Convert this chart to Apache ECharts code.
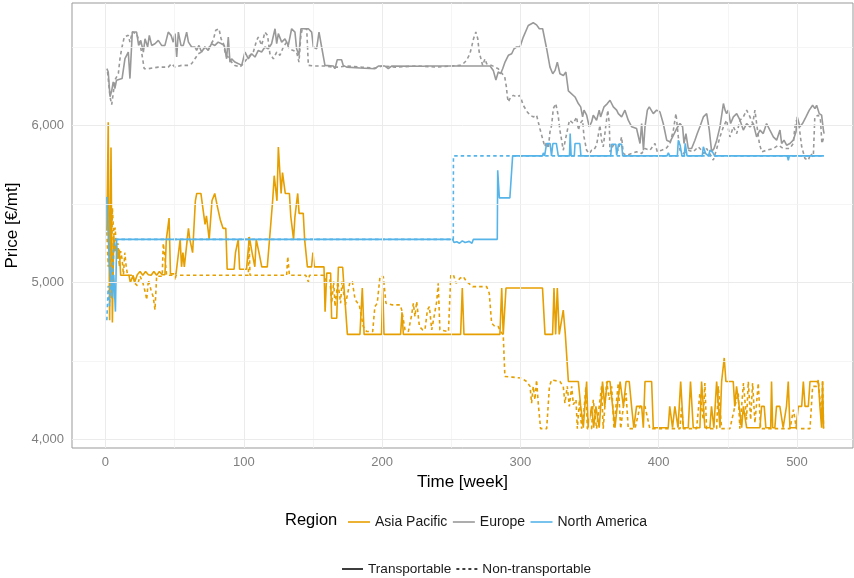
<!DOCTYPE html>
<html><head><meta charset="utf-8">
<script src="https://cdn.jsdelivr.net/npm/echarts@6/dist/echarts.min.js"></script>
<style>html,body{margin:0;padding:0;background:#fff}#c{width:854px;height:578px}</style>
</head><body><div id="c"></div>
<script>
const regions = ['Asia Pacific', 'Europe', 'North America'];
const regionColors = ['#E69F00', '#999999', '#56B4E9'];
const types = ['Transportable', 'Non-transportable'];
const xTicks = [0, 100, 200, 300, 400, 500];
const xGrid = [0, 50, 100, 150, 200, 250, 300, 350, 400, 450, 500];
const yTicks = [4000, 5000, 6000];
const yGrid = [4000, 4500, 5000, 5500, 6000, 6500];

// Asia Pacific, transportable [week, price]
const apT = [[1,5330],[2,6020],[3,4760],[4,5860],[5,4745],[6,5300],[7,5200],[8,5240],[9,5150],[10,5210],[11,5046],[17,5046],[18,5000],[20,5046],[21,5000],[23,5050],[25,5070],[27,5046],[29,5070],[31,5050],[33,5046],[35,5070],[37,5046],[39,5070],[41,5050],[43,5050],[44,5275],[46,5410],[47,5055],[51,5055],[54,5275],[55,5100],[56,5190],[57,5100],[60,5345],[61,5275],[63,5190],[65,5520],[66,5567],[69,5567],[72,5370],[73,5425],[75,5275],[77,5520],[79,5567],[81,5480],[83,5400],[85,5345],[87,5345],[88,5085],[91,5085],[93,5085],[94,5190],[96,5275],[97,5085],[102,5085],[104,5290],[106,5190],[108,5100],[109,5275],[111,5190],[113,5100],[117,5100],[119,5315],[121,5535],[122,5680],[124,5520],[125,5863],[127,5567],[128,5700],[130,5567],[133,5567],[134,5420],[136,5275],[137,5420],[139,5567],[140,5440],[143,5440],[144,5275],[146,5100],[149,5100],[150,5190],[151,5100],[158,5100],[158.8,4815],[160,5060],[162.8,5060],[163.5,4773],[167.2,4773],[168.4,5097],[171.5,5097],[172.5,4964],[173.5,4847],[174.9,4670],[184,4670],[185.7,4965],[187,4670],[199.6,4670],[200.5,4965],[201.4,4670],[213.4,4670],[214.4,4810],[215.4,4670],[256.8,4670],[258,4965],[259.2,4670],[285.2,4670],[286.5,4965],[287.6,4670],[289.6,4965],[316,4965],[317.8,4670],[323.3,4670],[324.3,4965],[325.5,4670],[326.7,4965],[328.1,4670],[331,4825],[332.5,4670],[333.4,4670],[334.7,4370],[341.9,4370],[343.6,4215],[345.5,4076],[347.9,4370],[349,4076],[351.5,4212],[353,4076],[354.6,4212],[357,4076],[359.4,4370],[361,4212],[362.8,4370],[364.8,4370],[366.7,4212],[368.4,4076],[370,4212],[372.1,4370],[374.5,4212],[376.4,4370],[378.7,4370],[380.4,4212],[382,4076],[384,4212],[387.7,4212],[388.9,4076],[390.1,4370],[394.9,4370],[396.1,4076],[406.9,4076],[408,4212],[410,4076],[411.7,4212],[414,4076],[415.9,4370],[417.8,4076],[421.4,4076],[423,4370],[425,4076],[429.8,4076],[431,4370],[433.4,4076],[437,4076],[438.2,4212],[439.9,4076],[441.9,4370],[444.3,4076],[445.5,4370],[447.4,4520],[448.6,4370],[453.9,4370],[455,4212],[456.3,4340],[458.2,4212],[460,4076],[461.2,4212],[463.6,4076],[473.2,4076],[474.4,4212],[476.3,4212],[477.5,4076],[481,4076],[481.6,4370],[482.4,4076],[484,4076],[485.2,4212],[487.6,4212],[490,4076],[492.4,4212],[493.7,4370],[494.9,4076],[499.3,4076],[501,4212],[503.4,4212],[504.6,4370],[505.8,4212],[508.2,4212],[509.4,4370],[515.4,4370],[516.6,4212],[517.8,4076],[518.5,4370],[519.2,4076]];

// Asia Pacific, non-transportable
const apN = [[1,5320],[2,5100],[3,5450],[4,4900],[5,5474],[6,5300],[7,5350],[8,5200],[9,5250],[10,5100],[11,5200],[12,5150],[13,5050],[14,5190],[15,5100],[16,5046],[20,5046],[21.3,4995],[23,4980],[25,5040],[27,5000],[29,4930],[29.8,4890],[31,5016],[33,4950],[34.5,4910],[35.8,4826],[37,5040],[41,5040],[41.8,5250],[43,5160],[44.2,5046],[50,5046],[50.3,5015],[51,5046],[103.3,5046],[103.8,5290],[104.5,5046],[131,5046],[131.8,5165],[133,5046],[144.8,5046],[146.7,5005],[147.5,5046],[157.5,5046],[160,5006],[162.3,5016],[163.6,4868],[165,5006],[166,4847],[168,5006],[169,5006],[170,4868],[171,5006],[173.5,4858],[174.4,4868],[176.8,5005],[178.5,5005],[180.5,4890],[183.5,4858],[186.4,4720],[188.8,4688],[193.2,4688],[194.8,4847],[196.5,4868],[198.5,5038],[200.9,5038],[202.8,4868],[207,4858],[213,4858],[214.2,4826],[216.6,4699],[219,4688],[221.4,4794],[222.6,4868],[223.8,4783],[225,4879],[227,4720],[229.4,4699],[231,4699],[232.8,4826],[234.2,4847],[235.9,4699],[239.5,4879],[240.6,4995],[241.8,4699],[248,4688],[249.7,5048],[251.6,5048],[253.5,4995],[256.3,5027],[258.7,5038],[261.1,5006],[265.5,4974],[275.6,4974],[277.5,4932],[279.2,4741],[281.6,4720],[284,4720],[285.7,4688],[287.6,4667],[288.8,4402],[294,4398],[300.9,4392],[304.5,4370],[307,4339],[308.1,4233],[309.3,4339],[310.5,4254],[311.7,4380],[312.9,4233],[314.6,4070],[319,4070],[321,4339],[322.6,4380],[328.6,4370],[331,4339],[332.2,4233],[333.9,4339],[335.4,4212],[337.1,4339],[338.3,4223],[340.2,4254],[341.2,4070],[342.7,4254],[344.3,4070],[346,4191],[347.4,4339],[348.4,4070],[351.5,4070],[352.7,4254],[355.1,4070],[358.7,4339],[359.9,4070],[362.4,4370],[364.3,4254],[366,4339],[367.7,4070],[369.1,4212],[370.8,4360],[372.5,4070],[374.5,4212],[376.4,4296],[378,4070],[382.9,4070],[386.5,4212],[390.1,4212],[393.6,4070],[415.4,4070],[416.6,4212],[417.8,4070],[427.4,4070],[429.8,4296],[432.2,4127],[433.4,4360],[434.6,4070],[441.9,4070],[443.1,4339],[445.5,4070],[451.5,4070],[455.1,4212],[457.5,4296],[458.7,4070],[461.3,4360],[463.5,4127],[464.8,4370],[466.5,4127],[467.9,4360],[469.6,4106],[472,4360],[473.7,4070],[495,4070],[497.4,4191],[499.6,4070],[509.4,4070],[511.3,4339],[514.2,4339],[515.4,4380],[516.6,4392],[517.8,4127],[518.5,4380],[519.2,4070]];

// Europe, transportable
const euT = [[1,6361],[2,6340],[3.3,6182],[4.5,6220],[5.6,6277],[6.8,6235],[8,6288],[9.3,6298],[12,6298],[14.1,6425],[16.5,6467],[17.7,6298],[19.4,6594],[22.5,6594],[24,6509],[25.5,6541],[27.4,6467],[28.6,6551],[30.5,6499],[31.7,6573],[33.4,6509],[35.8,6520],[38.2,6541],[40.6,6509],[43,6509],[45.4,6594],[47.4,6573],[49,6530],[50.3,6584],[51.5,6435],[52.7,6594],[54.6,6509],[56.3,6509],[58.7,6594],[60,6530],[62.3,6499],[64.7,6499],[65.9,6477],[67.6,6509],[69.5,6467],[71.9,6499],[74.3,6477],[76.7,6520],[79.1,6509],[81.5,6530],[83.9,6520],[85.9,6509],[87.6,6424],[88.8,6562],[90,6403],[91.2,6424],[93.6,6403],[96.1,6393],[98.5,6382],[100.9,6467],[103.3,6424],[105.7,6456],[108.1,6435],[110.5,6477],[112.9,6467],[115.3,6499],[117.7,6488],[120.1,6520],[122.6,6615],[123.8,6520],[125,6584],[127.4,6530],[129.8,6551],[132.2,6509],[134.6,6615],[137,6594],[138.2,6488],[139.9,6446],[141.3,6615],[146.7,6615],[149.1,6594],[150.3,6499],[152.7,6488],[154.4,6594],[156.3,6499],[158.7,6382],[164.7,6378],[165.9,6361],[167.6,6418],[170.7,6418],[171.9,6382],[174.4,6371],[184,6365],[194.9,6361],[197.3,6378],[202.1,6378],[204.5,6361],[206.9,6378],[230,6376],[231,6368],[232,6378],[278.1,6378],[280.4,6350],[282.3,6289],[284,6340],[285.7,6329],[287.2,6361],[288.9,6403],[291.3,6446],[293.7,6456],[295.4,6488],[297.3,6499],[299.7,6499],[300.9,6488],[302.1,6562],[303.3,6573],[305.7,6636],[309.3,6653],[311.7,6640],[313.7,6615],[316.1,6615],[317.1,6626],[319,6488],[321.4,6371],[323.4,6329],[325.1,6350],[326.7,6403],[328.6,6329],[331.1,6318],[332.9,6340],[334.7,6220],[339.5,6181],[341.9,6139],[343.6,6118],[345,6054],[346,6097],[347.9,6065],[349.8,5991],[351.5,6022],[352.7,6065],[355.1,6033],[357,6097],[358,6054],[360.5,6118],[362.9,6139],[364.8,6160],[367.2,6118],[369.6,6097],[370.8,6075],[373.2,6054],[375.6,6097],[378,6033],[380.5,5991],[384,5980],[386.5,5885],[387.7,6012],[389,5842],[390.1,5991],[391.8,6097],[393.2,6118],[396.1,6075],[398.5,6097],[400.9,6086],[403.3,6012],[405.8,5906],[408.2,5895],[410.6,5937],[413,5980],[415.4,6012],[417.3,5991],[418.3,5885],[419.7,5948],[421.4,5853],[423.8,5853],[426.2,5906],[427.9,5948],[429.8,5991],[432.3,6054],[434.7,6075],[436.6,5970],[438.3,5832],[440,5853],[442,5906],[444.3,5991],[446.8,6139],[448,6097],[449.1,6075],[450.3,6097],[452,6012],[454,6054],[456.4,6075],[458.8,6033],[461.2,5970],[463.6,6012],[466,5991],[468.4,6012],[470.8,5927],[473.2,5970],[475.6,5948],[478,6012],[480.4,5970],[482.9,5927],[485.3,5906],[487.7,5970],[488.9,5885],[490.6,5906],[492.5,5874],[494.9,5885],[497.3,5906],[499.3,5959],[500.2,6054],[502.1,5991],[504,6012],[506.5,6054],[508.9,6097],[511.3,6128],[513,6107],[514.2,6128],[516.1,6075],[517.8,6065],[519.1,5970],[519.6,5948]];

// Europe, non-transportable
const euN = [[1.5,6340],[3.3,6182],[4.5,6132],[5.6,6203],[6.8,6288],[9.3,6330],[10.5,6425],[11.7,6488],[13.6,6563],[16.5,6573],[17.7,6530],[19.4,6594],[22.5,6584],[24.9,6520],[26.1,6467],[28,6361],[30.9,6361],[38.2,6371],[45.4,6371],[47.8,6393],[50.3,6371],[55,6382],[60,6382],[62.3,6393],[64.7,6424],[67.1,6456],[69.5,6467],[71.9,6499],[74.3,6488],[77.9,6541],[79.7,6605],[82.1,6615],[83.6,6551],[85.3,6520],[86.9,6446],[88.8,6435],[91.2,6403],[93.6,6382],[97.2,6371],[99.6,6393],[103.3,6435],[106.9,6467],[109.3,6541],[110.5,6562],[112.9,6509],[115.3,6594],[117.2,6573],[118.9,6456],[121.4,6424],[123.8,6467],[126.2,6446],[128.6,6499],[131,6530],[132.7,6488],[135.8,6477],[138.2,6467],[139.9,6403],[141.3,6573],[142.3,6615],[145.5,6615],[146.7,6382],[151.5,6378],[158.7,6378],[164.7,6371],[165.9,6361],[169,6371],[174,6378],[185,6371],[195,6365],[200,6378],[210,6371],[225,6378],[240,6371],[250,6378],[256.3,6382],[258.7,6393],[261.1,6414],[263.5,6456],[265,6509],[266.1,6551],[267.8,6594],[269.2,6551],[270.2,6467],[272.7,6382],[274.4,6424],[275.6,6393],[276.8,6382],[279.2,6382],[284,6361],[288.7,6308],[289.9,6244],[290.6,6181],[291.3,6149],[293,6181],[295,6191],[297.3,6181],[299.7,6191],[302.1,6128],[305,6086],[307,6065],[309.3,6054],[311.7,6065],[314.1,5980],[316,5917],[317.7,5864],[319,5895],[320.2,5853],[321.4,5959],[322.6,6001],[323.8,6107],[325.6,6139],[327.3,6065],[328.6,5969],[329.8,5906],[331,5842],[332.5,5906],[334,5970],[335.5,6033],[338.3,6012],[340.7,6054],[342,5969],[343.1,6012],[345,6033],[346,5927],[347.9,5842],[349.8,5821],[351.5,5842],[353,5842],[355.1,5874],[357.5,6001],[358.7,5906],[359.9,5864],[363.2,6097],[364.3,6012],[364.8,5832],[367.2,5874],[370.8,5842],[373.2,5927],[374.4,5821],[376.8,5810],[380.5,5821],[384,5832],[387.7,5821],[390.1,5853],[393.7,5842],[397.3,5885],[399,5832],[402.1,5842],[405.3,5853],[408.2,5885],[410.6,5970],[412.5,6076],[414.2,5927],[415.4,5842],[417.8,5821],[421.4,5842],[425,5832],[428.6,5864],[431,5842],[432.7,5821],[434.6,5853],[438.3,5800],[439.5,5779],[442,5853],[444.3,5927],[446.8,5991],[449.1,6033],[451.5,5927],[454,5991],[456.4,5948],[458.8,6033],[461.2,6054],[463.6,6097],[466,6054],[468,6012],[469.6,6097],[470.8,6012],[472.8,5885],[474.5,5832],[478,5842],[482.9,5853],[486.5,5874],[490.1,5853],[494.9,5853],[497.3,5885],[498.5,5991],[499.7,6033],[501.6,5991],[503.4,5864],[505.8,5789],[508.2,5779],[509.9,5821],[511.8,5800],[512.9,6054],[515.4,6065],[517,6033],[518,5885],[519.5,5927]];

// North America, transportable
const naT = [[1,5545],[2,5300],[3,5100],[4,5000],[5,4900],[6,5050],[7.2,4815],[8.1,5275],[251,5275],[252,5255],[254,5260],[256,5250],[258,5265],[260,5255],[263,5262],[265,5250],[266,5275],[283.3,5275],[283.6,5715],[284.8,5539],[292.4,5539],[294.4,5806],[316,5806],[316.6,5825],[317.5,5806],[319,5885],[321.5,5885],[322.5,5806],[323.5,5885],[326,5885],[327.4,5806],[335.5,5806],[336,5949],[336.7,5806],[339,5806],[339.5,5885],[343,5885],[343.8,5806],[357,5806],[357.4,5816],[358,5806],[365.3,5806],[366,5880],[369,5880],[369.6,5810],[371,5880],[373.2,5880],[374,5806],[377,5806],[378,5795],[380,5806],[406,5806],[407,5825],[408,5806],[413.5,5806],[414.2,5906],[415.5,5874],[416.8,5806],[418.5,5806],[419.2,5885],[420.5,5806],[431.5,5806],[432.3,5864],[434,5820],[436,5806],[437.1,5842],[439,5830],[440.5,5806],[493,5806],[493.7,5778],[494.5,5806],[519.5,5806]];

// North America, non-transportable
const naN = [[1,4760],[2,4980],[3,4850],[4,5100],[5,4950],[6,5200],[7,5275],[251.5,5275],[251.6,5806],[519.5,5806]];

const seriesData = [
  {region: 0, type: 0, data: apT},
  {region: 0, type: 1, data: apN},
  {region: 1, type: 0, data: euT},
  {region: 1, type: 1, data: euN},
  {region: 2, type: 0, data: naT},
  {region: 2, type: 1, data: naN}
];

const FONT = 'Liberation Sans, Arial, sans-serif';
const DASH = [3.5, 3];
const LW = 1.6;
const SOLID_ICON = 'path://M0,0h22v1.6h-22z';
const DASH_ICON = 'path://M0,0h3v1.6h-3zM6,0h3v1.6h-3zM12,0h3v1.6h-3zM18,0h3v1.6h-3z';

const series = [];
// grid lines
series.push({
  type: 'line', data: [], z: 1, silent: true,
  markLine: {
    silent: true, symbol: ['none', 'none'], label: {show: false}, animation: false,
    data: xGrid.map(v => ({xAxis: v, lineStyle: {color: v % 100 === 0 ? '#EBEBEB' : '#F3F3F3', width: v % 100 === 0 ? 1 : 0.8, type: 'solid'}}))
      .concat(yGrid.map(v => ({yAxis: v, lineStyle: {color: v % 1000 === 0 ? '#EBEBEB' : '#F3F3F3', width: v % 1000 === 0 ? 1 : 0.8, type: 'solid'}})))
  }
});
seriesData.forEach(s => {
  series.push({
    name: regions[s.region] + ' - ' + types[s.type],
    type: 'line', data: s.data, symbol: 'none', z: 3,
    lineStyle: {color: regionColors[s.region], width: LW, type: s.type === 0 ? 'solid' : DASH},
    itemStyle: {color: regionColors[s.region]}
  });
});
// legend helper series
regions.forEach((r, i) => series.push({name: r, type: 'line', data: [], symbol: 'none',
  lineStyle: {color: regionColors[i], width: LW}, itemStyle: {color: regionColors[i]}}));
types.forEach((t, i) => series.push({name: t, type: 'line', data: [], symbol: 'none',
  lineStyle: {color: '#000', width: LW, type: i === 0 ? 'solid' : DASH}, itemStyle: {color: '#000'}}));

const chart = echarts.init(document.getElementById('c'), null, {renderer: 'canvas'});
chart.setOption({
  animation: false,
  backgroundColor: '#fff',
  textStyle: {fontFamily: FONT},
  title: {text: 'Region', left: 285, top: 512, padding: 0,
    textStyle: {fontSize: 16.5, fontWeight: 'normal', color: '#000', fontFamily: FONT}},
  legend: [
    {data: regions.map(r => ({name: r, icon: SOLID_ICON})), left: 348, top: 515, padding: 0,
      itemWidth: 22, itemHeight: 14, itemGap: 5.5,
      textStyle: {fontSize: 14, color: '#1a1a1a', fontFamily: FONT}},
    {data: types.map((t, i) => ({name: t, icon: i === 0 ? SOLID_ICON : DASH_ICON})), left: 342, top: 562, padding: 0,
      itemWidth: 21, itemHeight: 14, itemGap: 5,
      textStyle: {fontSize: 13.6, color: '#1a1a1a', fontFamily: FONT}}
  ],
  grid: {left: 72, right: 1, top: 3, bottom: 130, show: true, borderColor: '#999999', borderWidth: 1,
    containLabel: false, outerBoundsMode: 'none'},
  xAxis: {
    type: 'value', min: -24.2, max: 540.5,
    name: 'Time [week]', nameLocation: 'middle', nameGap: 26,
    nameTextStyle: {fontSize: 17, color: '#000', fontFamily: FONT},
    axisLine: {show: false}, axisTick: {show: false}, splitLine: {show: false},
    axisLabel: {customValues: xTicks, color: '#7F7F7F', fontSize: 13, margin: 8, fontFamily: FONT}
  },
  yAxis: {
    type: 'value', min: 3947, max: 6779,
    name: 'Price [€/mt]', nameLocation: 'middle', nameGap: 48, nameRotate: 90,
    nameTextStyle: {fontSize: 17, color: '#000', fontFamily: FONT},
    axisLine: {show: false}, axisTick: {show: false}, splitLine: {show: false},
    axisLabel: {customValues: yTicks, color: '#7F7F7F', fontSize: 13, margin: 8, fontFamily: FONT,
      formatter: v => v.toLocaleString('en-US')}
  },
  series: series
});
</script>
</body></html>
